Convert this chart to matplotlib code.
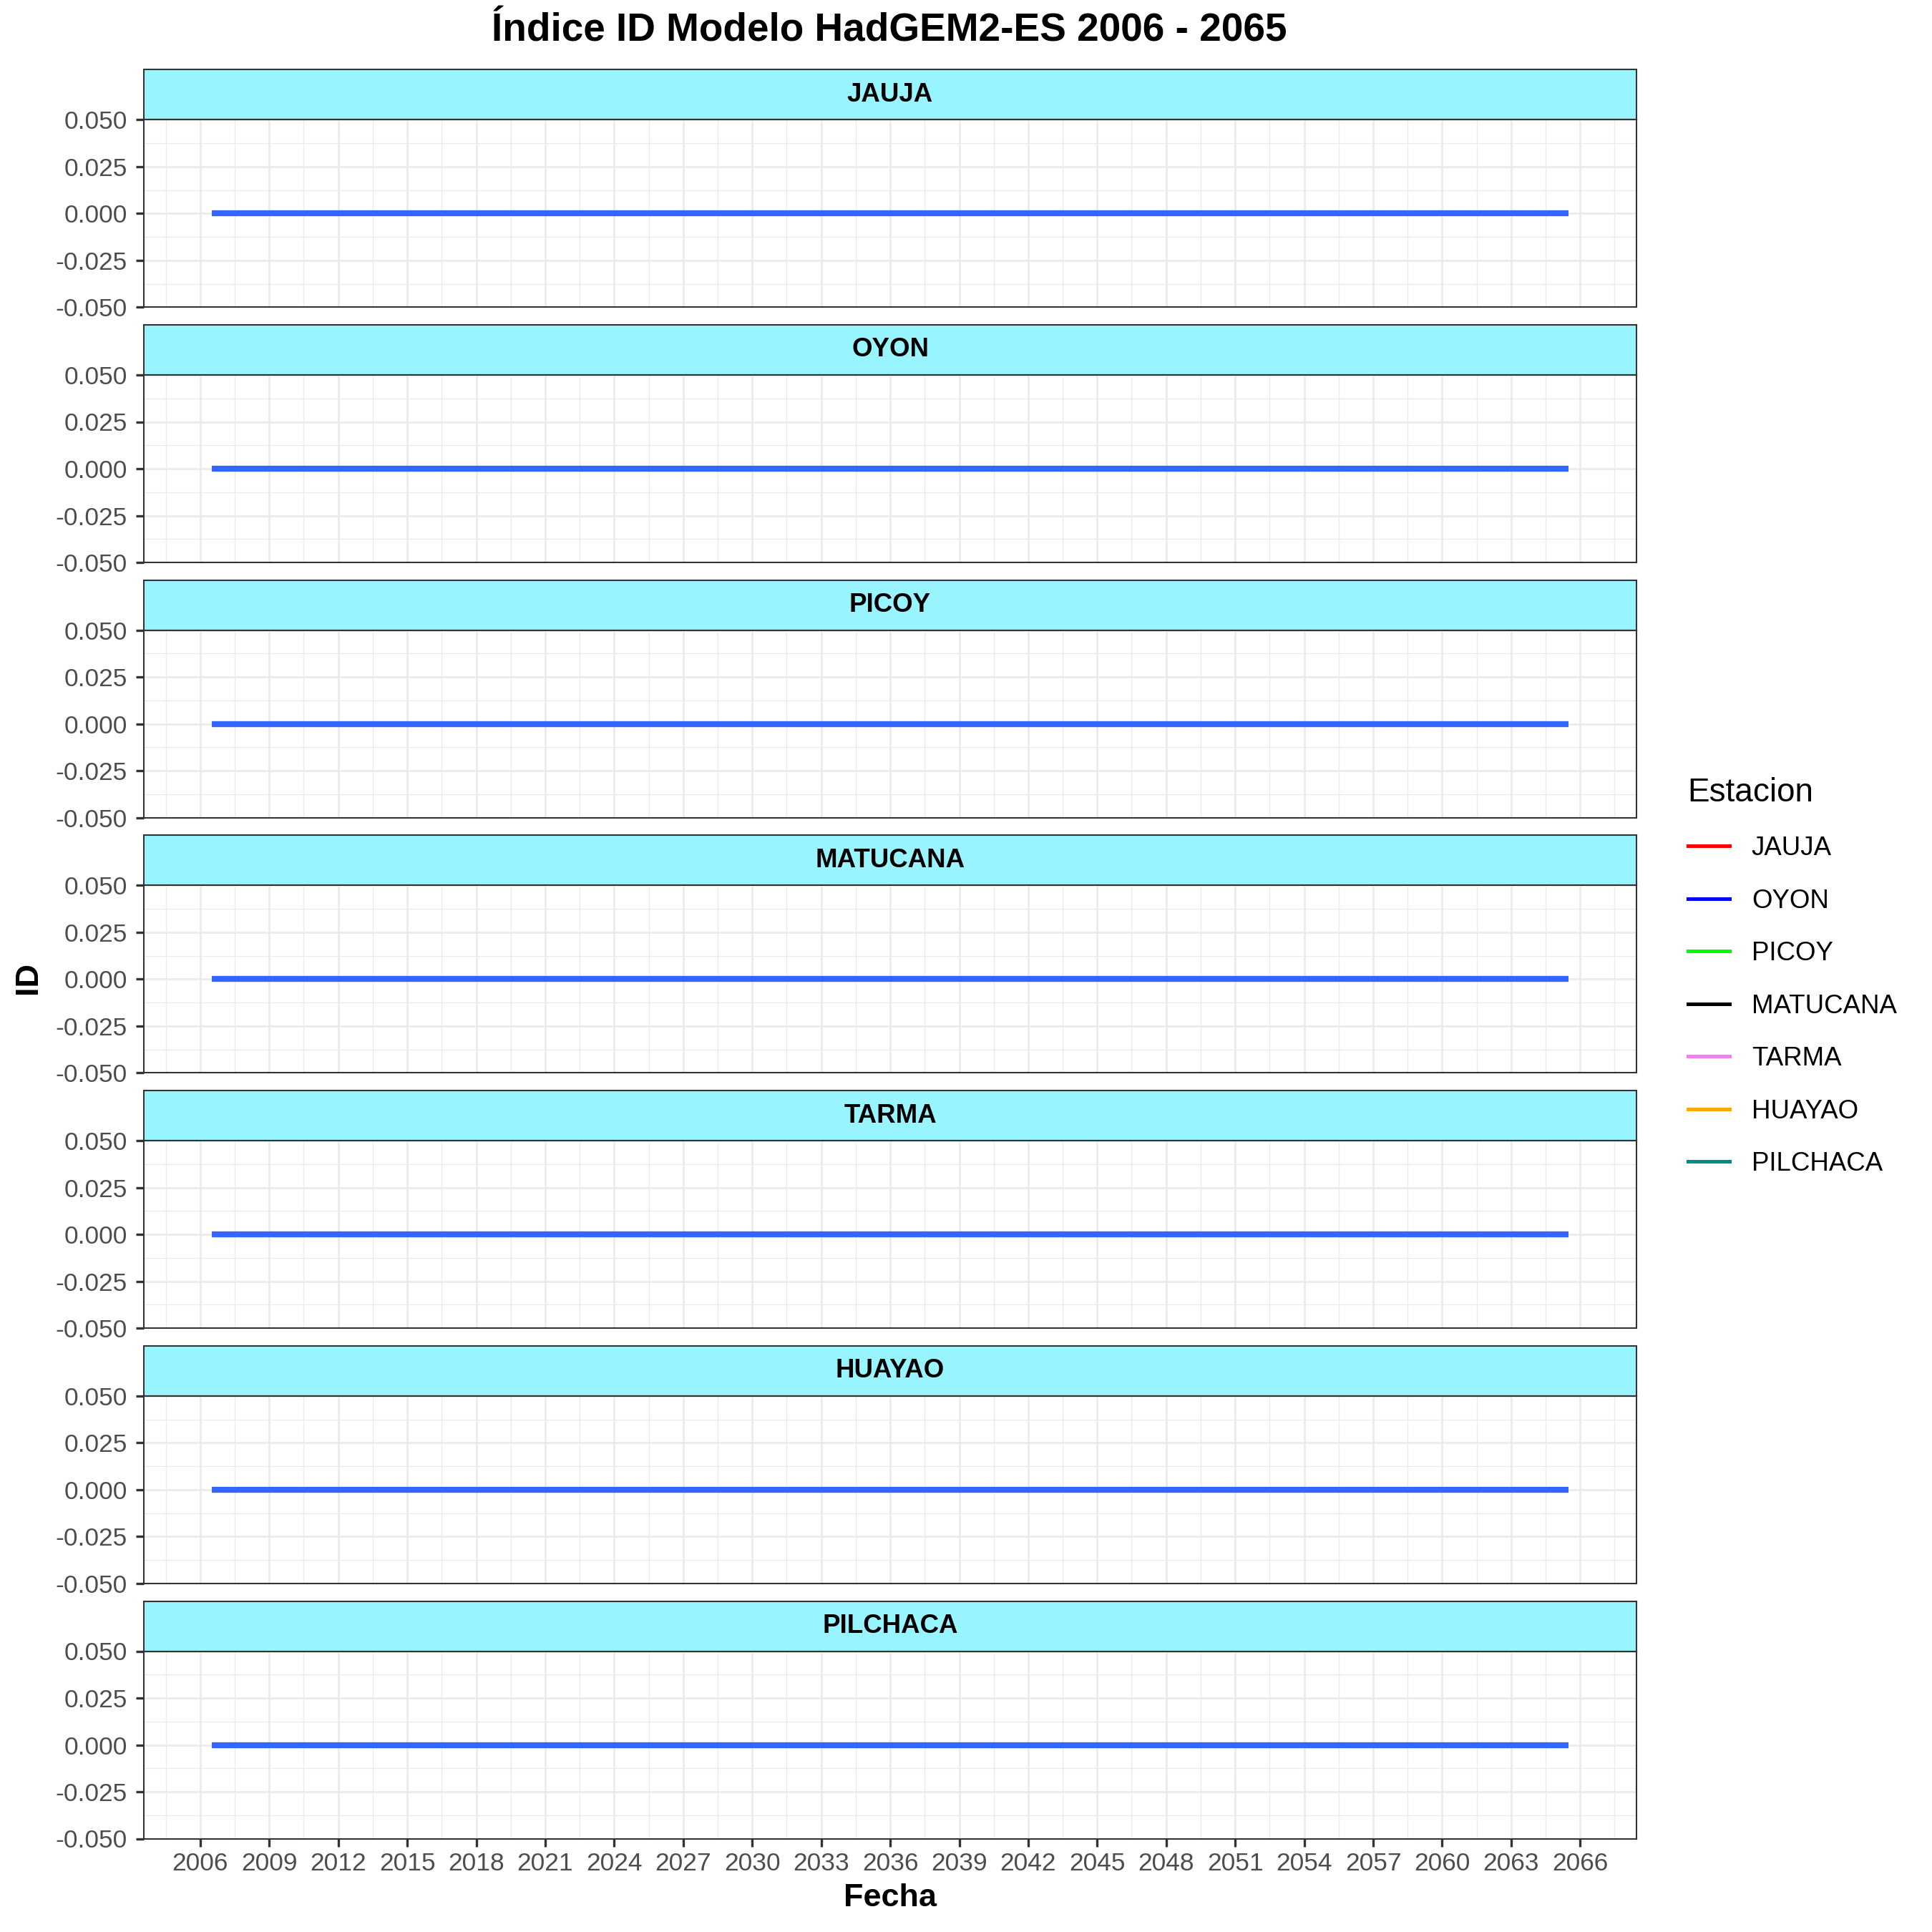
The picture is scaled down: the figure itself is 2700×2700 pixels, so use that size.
#!/usr/bin/env python3
"""
Indice ID, modelo HadGEM2-ES 2006-2065: one facet per station, stacked.
Writes out.png (2700x2700).
"""
import matplotlib
matplotlib.use("Agg")
import matplotlib.pyplot as plt
import matplotlib.dates as mdates
from matplotlib.lines import Line2D
from matplotlib.ticker import FixedLocator, FormatStrFormatter
import pandas as pd

plt.rcParams["font.family"] = ["Liberation Sans", "DejaVu Sans"]

TITLE = "Índice ID Modelo HadGEM2-ES 2006 - 2065"

estaciones = ["JAUJA", "OYON", "PICOY", "MATUCANA", "TARMA", "HUAYAO", "PILCHACA"]
colores_leyenda = ["#FF0000", "#0000FF", "#00FF00", "#000000",
                   "#EE82EE", "#FFA500", "#008B8B"]

# one value per year, stamped at mid-year
anios = list(range(2006, 2066))

id_jauja = [
    0, 0, 0, 0, 0, 0, 0, 0, 0, 0, 0, 0, 0, 0, 0, 0, 0, 0, 0, 0,
    0, 0, 0, 0, 0, 0, 0, 0, 0, 0, 0, 0, 0, 0, 0, 0, 0, 0, 0, 0,
    0, 0, 0, 0, 0, 0, 0, 0, 0, 0, 0, 0, 0, 0, 0, 0, 0, 0, 0, 0,
]
id_oyon = [
    0, 0, 0, 0, 0, 0, 0, 0, 0, 0, 0, 0, 0, 0, 0, 0, 0, 0, 0, 0,
    0, 0, 0, 0, 0, 0, 0, 0, 0, 0, 0, 0, 0, 0, 0, 0, 0, 0, 0, 0,
    0, 0, 0, 0, 0, 0, 0, 0, 0, 0, 0, 0, 0, 0, 0, 0, 0, 0, 0, 0,
]
id_picoy = [
    0, 0, 0, 0, 0, 0, 0, 0, 0, 0, 0, 0, 0, 0, 0, 0, 0, 0, 0, 0,
    0, 0, 0, 0, 0, 0, 0, 0, 0, 0, 0, 0, 0, 0, 0, 0, 0, 0, 0, 0,
    0, 0, 0, 0, 0, 0, 0, 0, 0, 0, 0, 0, 0, 0, 0, 0, 0, 0, 0, 0,
]
id_matucana = [
    0, 0, 0, 0, 0, 0, 0, 0, 0, 0, 0, 0, 0, 0, 0, 0, 0, 0, 0, 0,
    0, 0, 0, 0, 0, 0, 0, 0, 0, 0, 0, 0, 0, 0, 0, 0, 0, 0, 0, 0,
    0, 0, 0, 0, 0, 0, 0, 0, 0, 0, 0, 0, 0, 0, 0, 0, 0, 0, 0, 0,
]
id_tarma = [
    0, 0, 0, 0, 0, 0, 0, 0, 0, 0, 0, 0, 0, 0, 0, 0, 0, 0, 0, 0,
    0, 0, 0, 0, 0, 0, 0, 0, 0, 0, 0, 0, 0, 0, 0, 0, 0, 0, 0, 0,
    0, 0, 0, 0, 0, 0, 0, 0, 0, 0, 0, 0, 0, 0, 0, 0, 0, 0, 0, 0,
]
id_huayao = [
    0, 0, 0, 0, 0, 0, 0, 0, 0, 0, 0, 0, 0, 0, 0, 0, 0, 0, 0, 0,
    0, 0, 0, 0, 0, 0, 0, 0, 0, 0, 0, 0, 0, 0, 0, 0, 0, 0, 0, 0,
    0, 0, 0, 0, 0, 0, 0, 0, 0, 0, 0, 0, 0, 0, 0, 0, 0, 0, 0, 0,
]
id_pilchaca = [
    0, 0, 0, 0, 0, 0, 0, 0, 0, 0, 0, 0, 0, 0, 0, 0, 0, 0, 0, 0,
    0, 0, 0, 0, 0, 0, 0, 0, 0, 0, 0, 0, 0, 0, 0, 0, 0, 0, 0, 0,
    0, 0, 0, 0, 0, 0, 0, 0, 0, 0, 0, 0, 0, 0, 0, 0, 0, 0, 0, 0,
]
series = [id_jauja, id_oyon, id_picoy, id_matucana, id_tarma, id_huayao, id_pilchaca]

y_ticks = [-0.050, -0.025, 0.000, 0.025, 0.050]
y_minor = [-0.0375, -0.0125, 0.0125, 0.0375]
x_tick_years = list(range(2006, 2067, 3))

# ---- styling (ggplot theme_bw look) ----
W = H = 2700.0
DPI = 300
LINE_BLUE = "#3366FF"
STRIP_FILL = "#98F5FF"
DARK = "#333333"
GRID = "#EBEBEB"
TICK_TXT = "#4D4D4D"

left_px, right_px = 201, 2287
strip_top0, strip_h, panel_h, period = 97.3, 70.0, 262.0, 356.7

fechas = pd.to_datetime([f"{a}-07-01" for a in anios])
span = fechas.max() - fechas.min()
xlim = (fechas.min() - 0.05 * span, fechas.max() + 0.05 * span)
x_major = pd.to_datetime([f"{a}-01-01" for a in x_tick_years])
x_minor = pd.to_datetime([f"{a - 2}-07-01" for a in x_tick_years] + [f"{x_tick_years[-1] + 1}-07-01"])

fig = plt.figure(figsize=(W / DPI, H / DPI), dpi=DPI)
fig.patch.set_facecolor("white")

L = left_px / W
Wd = (right_px - left_px) / W
n = len(estaciones)
for i, (est, vals) in enumerate(zip(estaciones, series)):
    top = strip_top0 + i * period
    sax = fig.add_axes([L, 1 - (top + strip_h) / H, Wd, strip_h / H])
    sax.set_facecolor(STRIP_FILL)
    sax.set_xticks([])
    sax.set_yticks([])
    for sp in sax.spines.values():
        sp.set_color(DARK)
        sp.set_linewidth(0.5)
    sax.text(0.5, 0.5, est, ha="center", va="center", fontsize=8.8,
             fontweight="bold", color="black", transform=sax.transAxes)

    ax = fig.add_axes([L, 1 - (top + strip_h + panel_h) / H, Wd, panel_h / H])
    ax.plot(fechas, vals, color=LINE_BLUE, linewidth=2.0, solid_capstyle="butt", zorder=3)
    ax.set_ylim(-0.05, 0.05)
    ax.set_xlim(*xlim)
    ax.yaxis.set_major_locator(FixedLocator(y_ticks))
    ax.yaxis.set_minor_locator(FixedLocator(y_minor))
    ax.yaxis.set_major_formatter(FormatStrFormatter("%.3f"))
    ax.set_xticks(x_major)
    ax.set_xticks(x_minor, minor=True)
    ax.xaxis.set_major_formatter(mdates.DateFormatter("%Y"))
    ax.grid(which="major", color=GRID, linewidth=0.65, zorder=0)
    ax.grid(which="minor", color=GRID, linewidth=0.32, zorder=0)
    ax.set_axisbelow(True)
    ax.tick_params(which="major", length=2.64, width=0.8, color=DARK,
                   labelsize=8.5, labelcolor=TICK_TXT)
    ax.tick_params(axis="y", pad=2.9)
    ax.tick_params(axis="x", pad=1.8)
    ax.tick_params(which="minor", length=0)
    if i < n - 1:
        ax.tick_params(axis="x", which="major", length=0, labelbottom=False)
    for sp in ax.spines.values():
        sp.set_color(DARK)
        sp.set_linewidth(0.5)

fig.text(1243 / W, 1 - 43 / H, TITLE, ha="center", va="center",
         fontsize=13.2, fontweight="bold")
fig.text(1244 / W, 1 - 2652 / H, "Fecha", ha="center", va="center",
         fontsize=10.8, fontweight="bold")
fig.text(39 / W, 1 - 1367 / H, "ID", ha="center", va="center", rotation=90,
         fontsize=10.8, fontweight="bold")

handles = [Line2D([], [], color=c, linewidth=1.2) for c in colores_leyenda]
leg = fig.legend(handles, estaciones, title="Estacion", loc="upper left",
                 bbox_to_anchor=(2344 / W, 1 - 1071 / H), frameon=False,
                 fontsize=8.8, title_fontsize=11, handlelength=1.58,
                 handletextpad=0.85, labelspacing=1.05, alignment="left",
                 borderaxespad=0)

fig.savefig("out.png", dpi=DPI, facecolor="white")
